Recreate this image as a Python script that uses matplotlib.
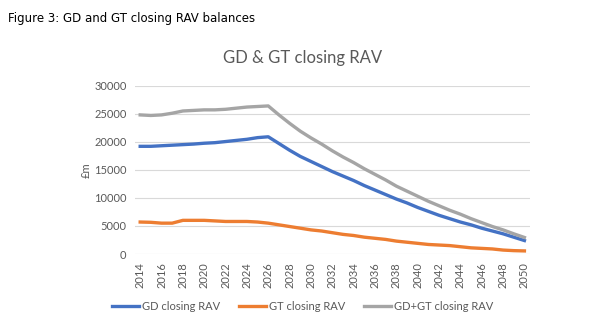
import numpy as np
import matplotlib
matplotlib.use("Agg")
import matplotlib.pyplot as plt

# closing RAV balances, £m
years = list(range(2014, 2051))
gd_rav = [19200, 19200, 19300, 19400, 19500, 19600, 19750, 19850, 20050, 20250,
          20450, 20750, 20900, 19700, 18500, 17400, 16500, 15600, 14700, 13900,
          13100, 12200, 11400, 10600, 9800, 9100, 8300, 7600, 6900, 6300,
          5700, 5200, 4600, 4100, 3600, 3000, 2400]
gt_rav = [5700, 5650, 5500, 5500, 6000, 6000, 6000, 5900, 5800, 5800,
          5800, 5700, 5500, 5200, 4900, 4600, 4300, 4100, 3800, 3500,
          3300, 3000, 2800, 2600, 2300, 2100, 1900, 1700, 1600, 1500,
          1300, 1100, 1000, 900, 700, 600, 550]
total_rav = [24800, 24700, 24800, 25100, 25500, 25600, 25700, 25700, 25800, 26000,
             26200, 26300, 26400, 24800, 23300, 21900, 20700, 19600, 18400, 17300,
             16300, 15200, 14200, 13200, 12100, 11200, 10300, 9400, 8600, 7800,
             7100, 6300, 5600, 4900, 4300, 3600, 2950]
tick_years = years[::2]
yticks = [0, 5000, 10000, 15000, 20000, 25000, 30000]

txt = "#595959"
fig = plt.figure(figsize=(6.02, 3.28), dpi=100)
fig.text(0.013, 0.945, "Figure 3: GD and GT closing RAV balances",
         fontsize=8.5, family="DejaVu Sans", color="black", va="center")

ax = fig.add_axes([0.224, 0.2256, 0.656, 0.513])
x = np.arange(len(years))
ax.plot(x, gd_rav, color="#4472C4", lw=2.4, label="GD closing RAV")
ax.plot(x, gt_rav, color="#ED7D31", lw=2.4, label="GT closing RAV")
ax.plot(x, total_rav, color="#A5A5A5", lw=2.4, label="GD+GT closing RAV")

ax.set_xlim(-0.5, len(years) - 0.5)
ax.set_ylim(0, 30000)
ax.set_yticks(yticks)
ax.set_yticklabels([str(v) for v in yticks], family="Lato", fontsize=8, color=txt)
ax.set_xticks([years.index(y) for y in tick_years])
ax.set_xticklabels([str(y) for y in tick_years], rotation=90,
                   family="Lato", fontsize=8, color=txt)
ax.tick_params(length=0, pad=6)
ax.grid(axis="y", color="#d9d9d9", lw=0.8)
ax.set_axisbelow(True)
for s in ax.spines.values():
    s.set_visible(False)

ax.set_ylabel("£m", family="Lato", fontsize=8, color=txt, labelpad=2)
fig.text(0.502, 0.823, "GD & GT closing RAV", ha="center", va="center",
         family="Lato", fontsize=12, color=txt)

fig.legend(loc="center", bbox_to_anchor=(0.502, 0.067), ncol=3, frameon=False,
           prop={"family": "Lato", "size": 8}, labelcolor=txt,
           handlelength=2.5, handletextpad=0.2, columnspacing=1.7)

fig.savefig("out.png", dpi=100)
